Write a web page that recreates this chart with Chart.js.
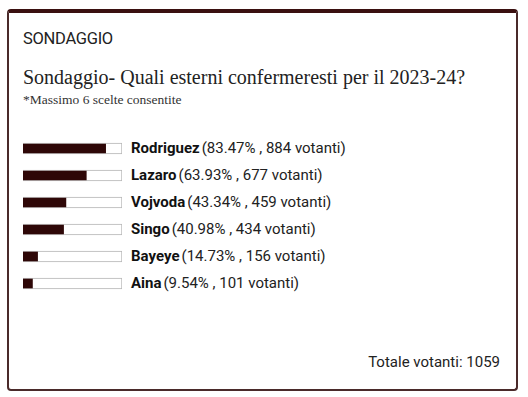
<!DOCTYPE html>
<html>
<head>
<meta charset="utf-8">
<script src="https://cdn.jsdelivr.net/npm/chart.js@4"></script>
<style>
  body { margin: 0; background: #fff; width: 528px; height: 397px; overflow: hidden; }
  #card {
    position: absolute; left: 7px; top: 9px; width: 507px; height: 376px;
    border: 2px solid #4a2a2a; border-top: 4px solid #3a1010; border-radius: 4px;
  }
  #kicker { position: absolute; left: 14px; top: 16px; font: 16.5px Roboto, sans-serif; color: #222; letter-spacing: -0.3px; }
  #title { position: absolute; left: 14px; top: 53px; font: 20px "Liberation Serif", serif; color: #222; white-space: nowrap; }
  #sub { position: absolute; left: 14px; top: 79px; font: 13.5px "Liberation Serif", serif; color: #333; }
  #chartBox { position: absolute; left: 14px; top: 122px; width: 99px; height: 162px; }
  #labels { position: absolute; left: 122px; top: 122px; font: 15px Roboto, sans-serif; color: #222; }
  #labels div { height: 27px; line-height: 27px; white-space: nowrap; }
  #labels b { font-weight: 700; color: #111; margin-right: 2px; }
  #total { position: absolute; right: 16px; top: 340px; font: 15px Roboto, sans-serif; color: #222; }
</style>
</head>
<body>
<div id="card">
  <div id="kicker">SONDAGGIO</div>
  <div id="title">Sondaggio- Quali esterni confermeresti per il 2023-24?</div>
  <div id="sub">*Massimo 6 scelte consentite</div>
  <div id="chartBox"><canvas id="poll"></canvas></div>
  <div id="labels"></div>
  <div id="total"></div>
</div>
<script>
const names = ["Rodriguez", "Lazaro", "Vojvoda", "Singo", "Bayeye", "Aina"];
const percents = [83.47, 63.93, 43.34, 40.98, 14.73, 9.54];
const votes = [884, 677, 459, 434, 156, 101];
const totalVotes = 1059;

// etichette a destra delle barre
const labelsEl = document.getElementById("labels");
names.forEach(function(n, i) {
    const row = document.createElement("div");
    row.innerHTML = "<b>" + n + "</b>(" + percents[i].toFixed(2) + "% , " + votes[i] + " votanti)";
    labelsEl.appendChild(row);
});
document.getElementById("total").textContent = "Totale votanti: " + totalVotes;

const ctx = document.getElementById("poll").getContext("2d");
new Chart(ctx, {
    type: "bar",
    data: {
        labels: names,
        datasets: [{
            data: percents,
            backgroundColor: "#2e0707",
            borderWidth: 0,
            barThickness: 9,
            grouped: false,
            order: 0
        }, {
            data: names.map(function() { return 100; }),
            backgroundColor: "#ffffff",
            borderColor: "#b5b5b5",
            borderWidth: 1,
            barThickness: 11,
            grouped: false,
            order: 1
        }]
    },
    options: {
        indexAxis: "y",
        responsive: true,
        maintainAspectRatio: false,
        animation: false,
        layout: { padding: 0 },
        plugins: { legend: { display: false }, tooltip: { enabled: false } },
        scales: {
            x: { display: false, min: 0, max: 100 },
            y: { display: false }
        }
    }
});
</script>
</body>
</html>
